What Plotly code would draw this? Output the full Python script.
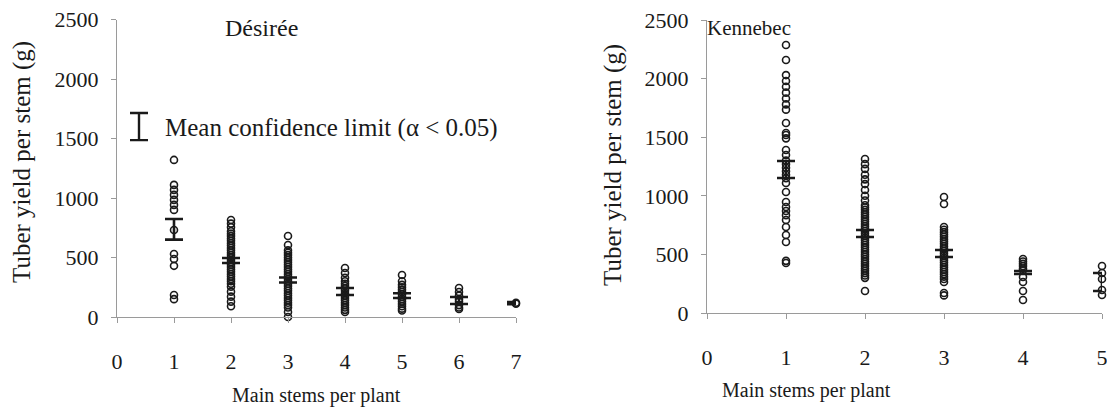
import plotly.graph_objects as go

W, H = 1107, 414

# ---------------- data ----------------
des_x = [1, 2, 3, 4, 5, 6, 7]
des_points = {
    1: [1320, 1110, 1068, 1026, 984, 942, 900, 731, 530, 488, 430, 185, 150],
    2: [815, 785, 755, 720, 700, 680, 660, 640, 620, 600, 580, 560, 540, 520, 500,
        480, 460, 440, 420, 400, 380, 360, 340, 320, 300, 280, 255, 213, 171, 129, 90],
    3: [681, 605, 560, 540, 520, 500, 480, 460, 440, 420, 400, 380, 360, 340, 320,
        300, 280, 260, 240, 220, 200, 180, 160, 140, 120, 100, 80, 42, 0],
    4: [412, 370, 330, 300, 280, 260, 240, 220, 200, 180, 160, 140, 120, 100, 80, 60, 42],
    5: [353, 300, 270, 250, 230, 210, 190, 170, 150, 130, 110, 90, 70, 55],
    6: [244, 210, 180, 150, 130, 100, 80, 67],
    7: [112, 120],
}
des_ci_low = [650, 454, 290, 185, 160, 109, 108]
des_ci_high = [823, 496, 332, 244, 200, 168, 126]

ken_x = [1, 2, 3, 4, 5]
ken_points = {
    1: [2287, 2159, 2030, 1980, 1930, 1880, 1830, 1780, 1735, 1621, 1536, 1519, 1490,
        1391, 1348, 1300, 1270, 1240, 1210, 1180, 1150, 1109, 1032, 947, 905, 870,
        835, 794, 734, 666, 606, 445, 427],
    2: [1314, 1270, 1230, 1180, 1140, 1100, 1050, 1000, 960, 920, 900, 880, 860, 840,
        820, 800, 780, 760, 740, 720, 700, 680, 660, 640, 620, 600, 580, 560, 540,
        520, 500, 480, 460, 440, 420, 400, 380, 360, 340, 320, 300, 188],
    3: [990, 930, 734, 710, 690, 670, 650, 630, 610, 590, 570, 550, 530, 510, 490,
        470, 450, 430, 410, 390, 370, 350, 330, 310, 290, 265, 171, 150],
    4: [461, 440, 420, 400, 380, 365, 307, 265, 188, 111],
    5: [401, 341, 290, 196, 154],
}
ken_ci_low = [1152, 648, 478, 333, 188]
ken_ci_high = [1297, 708, 538, 358, 341]

x_ticks_des = [0, 1, 2, 3, 4, 5, 6, 7]
x_ticks_ken = [0, 1, 2, 3, 4, 5]
y_ticks = [0, 500, 1000, 1500, 2000, 2500]

# ---------------- style ----------------
FONT = "Liberation Serif"
INK = "#1a1a1a"
AX = "#9a9a9a"


def px_x(p):
    return p / W


def px_y(p):
    return 1 - p / H


fig = go.Figure()


def add_panel(xs, pts, lo, hi, xa, ya):
    px, py = [], []
    for k in xs:
        for v in pts[k]:
            px.append(k)
            py.append(v)
    fig.add_trace(go.Scatter(
        x=px, y=py, mode="markers", xaxis=xa, yaxis=ya, showlegend=False,
        cliponaxis=False, hoverinfo="skip",
        marker=dict(symbol="circle-open", size=7, color=INK, line=dict(width=1.6, color=INK)),
    ))
    mean = [(a + b) / 2 for a, b in zip(lo, hi)]
    fig.add_trace(go.Scatter(
        x=xs, y=mean, mode="markers", xaxis=xa, yaxis=ya, showlegend=False,
        cliponaxis=False, hoverinfo="skip",
        marker=dict(size=1, color="rgba(0,0,0,0)"),
        error_y=dict(type="data", symmetric=False,
                     array=[h - m for h, m in zip(hi, mean)],
                     arrayminus=[m - l for m, l in zip(mean, lo)],
                     color=INK, thickness=2.6, width=9),
    ))


add_panel(des_x, des_points, des_ci_low, des_ci_high, "x", "y")
add_panel(ken_x, ken_points, ken_ci_low, ken_ci_high, "x2", "y2")

# legend glyph (confidence-limit symbol)
fig.add_trace(go.Scatter(
    x=[0.386], y=[1600], mode="markers", xaxis="x", yaxis="y", showlegend=False,
    hoverinfo="skip",
    marker=dict(size=1, color="rgba(0,0,0,0)"),
    error_y=dict(type="data", array=[114], color=INK, thickness=2.4, width=9),
))

tickfont = dict(family=FONT, size=22, color=INK)
common_x = dict(showline=True, linecolor=AX, linewidth=1, ticks="outside", tickcolor=AX,
                ticklen=5, showgrid=False, zeroline=False, tickfont=tickfont,
                ticklabelstandoff=20, automargin=False, ticklabeloverflow="allow")
common_y = dict(showline=True, linecolor=AX, linewidth=1, ticks="outside", tickcolor=AX,
                ticklen=5, showgrid=False, zeroline=False, tickfont=tickfont,
                range=[0, 2500], tickvals=y_ticks, ticklabelstandoff=8, automargin=False)

fig.update_layout(
    width=W, height=H, margin=dict(l=0, r=0, t=0, b=0, pad=0), autosize=False,
    paper_bgcolor="white", plot_bgcolor="white",
    xaxis=dict(domain=[px_x(117), px_x(516)], range=[0, 7], tickvals=x_ticks_des,
               anchor="y", **common_x),
    yaxis=dict(domain=[px_y(317), px_y(19.5)], anchor="x", **common_y),
    xaxis2=dict(domain=[px_x(707), px_x(1102)], range=[0, 5], tickvals=x_ticks_ken,
                anchor="y2", **common_x),
    yaxis2=dict(domain=[px_y(313), px_y(20)], anchor="x2", **common_y),
)


def ann(text, x, y, size, **kw):
    fig.add_annotation(xref="paper", yref="paper", x=px_x(x), y=px_y(y), text=text,
                       showarrow=False, font=dict(family=FONT, size=size, color=INK),
                       **kw)


ann("Désirée", 261, 28, 24, xanchor="center", yanchor="middle")
ann("Kennebec", 749, 28, 21, xanchor="center", yanchor="middle")
ann("Main stems per plant", 316, 395, 20, xanchor="center", yanchor="middle")
ann("Main stems per plant", 806, 390, 20, xanchor="center", yanchor="middle")
ann("Tuber yield per stem (g)", 22, 162, 25, xanchor="center", yanchor="middle",
    textangle=-90)
ann("Tuber yield per stem (g)", 613, 165, 25, xanchor="center", yanchor="middle",
    textangle=-90)
ann("Mean confidence limit (α < 0.05)", 163, 128, 25, xanchor="left", yanchor="middle")

fig.write_html("out.html", config={"displayModeBar": False},
               post_script="document.body.style.margin='0';document.body.style.overflow='hidden';")
